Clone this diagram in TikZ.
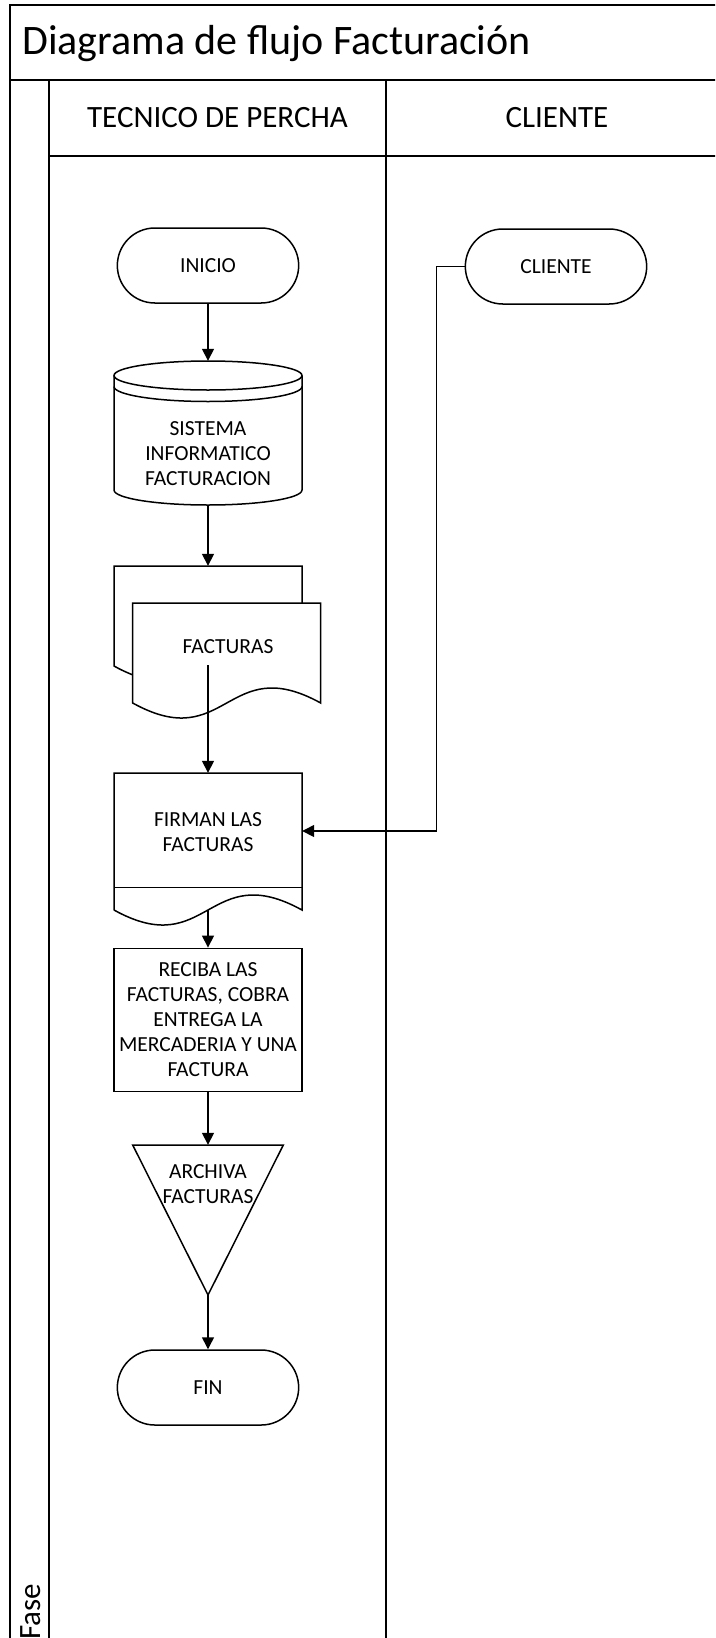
\documentclass[tikz,border=0pt]{standalone}
\usepackage{fontspec}
\setmainfont{Carlito}
\usetikzlibrary{shapes.misc,arrows.meta,calc}
\begin{document}
\begin{tikzpicture}[x=1pt,y=1pt,
  lane/.style={line width=2pt},
  shp/.style={draw, line width=1.5pt},
  lbl/.style={font=\fontsize{21.5}{25}\selectfont, align=center, inner sep=0pt},
  term/.style={rounded rectangle, draw, line width=1.5pt, minimum width=188pt, minimum height=75pt, font=\fontsize{21.5}{25}\selectfont},
  frame/.style={minimum width=188pt, inner sep=0pt},
  hdr/.style={font=\fontsize{31}{36}\selectfont, inner sep=0pt},
  conn/.style={line width=1.5pt, -{Triangle[length=12pt,width=12pt]}},
  link/.style={line width=1.5pt}
]
\useasboundingbox (0,0) rectangle (715,-1638);
\clip (0,0) rectangle (715,-1638);
\fill[white] (0,0) rectangle (715,-1638);

% swimlane frame
\draw[lane] (10,-4.5) rectangle (728,-1650);
\draw[lane] (10,-80) -- (728,-80);
\draw[lane] (49,-80) -- (49,-1650);
\draw[lane] (49,-156) -- (728,-156);
\draw[lane] (386,-80) -- (386,-1650);

\node[anchor=west, font=\fontsize{42}{48}\selectfont, inner sep=0pt] (title) at (22,-44) {Diagrama de flujo Facturación};
\node[hdr] (h1) at (217.5,-118) {TECNICO DE PERCHA};
\node[hdr] (h2) at (557,-118) {CLIENTE};
\node[hdr, rotate=90, anchor=west] (fase) at (30.5,-1640) {Fase};

% terminators
\node[term] (inicio) at (208,-265.5) {INICIO};
\node[term] (cliente) at (556,-266.5) {CLIENTE};
\node[term] (fin) at (208,-1387.5) {FIN};

% database cylinder
\node[frame, minimum height=144pt] (sis) at (208,-433) {};
\draw[shp, fill=white] (114,-375.5) -- (114,-490) arc[start angle=180, end angle=360, x radius=94, y radius=15] -- (302,-375.5);
\draw[shp] (208,-375.5) ellipse [x radius=94, y radius=14.5];
\draw[shp] (114,-386.5) arc[start angle=180, end angle=360, x radius=94, y radius=15];
\node[lbl] (sistxt) at (208,-453.6) {SISTEMA\\INFORMATICO\\FACTURACION};

% multi-document
\node[frame, minimum height=100pt] (docback) at (208,-616) {};
\draw[shp, fill=white] (114,-566) -- (302,-566) -- (302,-666) .. controls (208,-614) and (208,-718) .. (114,-666) -- cycle;
\node[frame, minimum height=100pt] (docfront) at (226.7,-653) {};
\draw[shp, fill=white] (132.7,-603) -- (320.7,-603) -- (320.7,-703) .. controls (226.7,-651) and (226.7,-755) .. (132.7,-703) -- cycle;
\node[lbl] (facttxt) at (228,-647) {FACTURAS};
\coordinate (factout) at (208,-665);

% firman (document with band)
\node[frame, minimum height=137pt] (firman) at (208,-841.5) {};
\draw[shp, fill=white] (114,-910) -- (114,-773) -- (302,-773) -- (302,-910) .. controls (208,-858) and (208,-962) .. (114,-910);
\draw[shp] (114,-887.7) -- (302,-887.7);
\node[lbl] (firmantxt) at (208,-832.5) {FIRMAN LAS\\FACTURAS};

% process box
\node[shp, lbl, minimum width=188pt, minimum height=143.4pt] (recibe) at (208,-1020) {RECIBA LAS\\FACTURAS, COBRA\\ENTREGA LA\\MERCADERIA Y UNA\\FACTURA};

% merge triangle
\node[minimum width=150.6pt, minimum height=150pt, inner sep=0pt] (archiva) at (208,-1220) {};
\draw[shp] (132.7,-1145) -- (283.3,-1145) -- (208,-1295) -- cycle;
\node[lbl] (archtxt) at (208,-1184) {ARCHIVA\\FACTURAS};

% connectors
\draw[conn] (inicio.south) -- (sis.north);
\draw[conn] (sis.south) -- (docback.north);
\draw[conn] (factout) -- (firman.north);
\draw[conn] (firman.south) -- (recibe.north);
\draw[conn] (recibe.south) -- (archiva.north);
\draw[conn] (archiva.south) -- (fin.north);
\draw[conn] (cliente.west) -- ++(-28,0) |- ([yshift=10.5pt]firman.east);
\end{tikzpicture}
\end{document}
